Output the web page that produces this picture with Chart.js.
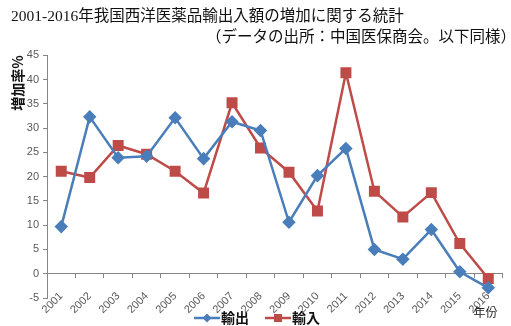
<!DOCTYPE html>
<html><head><meta charset="utf-8">
<script src="https://cdn.jsdelivr.net/npm/chart.js@4/dist/chart.umd.min.js"></script>
<style>html,body{margin:0;padding:0;background:#fff}#wrap{width:511px;height:326px}</style>
</head><body><div id="wrap"><canvas id="c" width="511" height="326"></canvas></div>
<script>
const years = ['2001','2002','2003','2004','2005','2006','2007','2008','2009','2010','2011','2012','2013','2014','2015','2016'];
const exportGrowth = [9.7, 32.3, 23.9, 24.2, 32.1, 23.7, 31.3, 29.5, 10.6, 20.2, 25.8, 5.0, 3.0, 9.1, 0.4, -2.9];
const importGrowth = [21.1, 19.8, 26.4, 24.6, 21.1, 16.6, 35.2, 25.9, 20.9, 12.9, 41.4, 17.0, 11.7, 16.7, 6.2, -1.0];
const seriesNames = ['輸出', '輸入'];
const titleLine1 = '2001-2016年我国西洋医薬品輸出入額の増加に関する統計';
const titleLine2 = '（データの出所：中国医保商会。以下同様）';
const yTitle = '増加率%';
const xTitle = '年份';

const BLUE = '#4a7ebb', RED = '#be4b48';
function icon(color, shape){
  const c = document.createElement('canvas'); c.width = 40; c.height = 12;
  const g = c.getContext('2d');
  g.strokeStyle = color; g.lineWidth = 2.5;
  g.beginPath(); g.moveTo(13,6); g.lineTo(39,6); g.stroke();
  g.fillStyle = color;
  if (shape === 'd'){ g.beginPath(); g.moveTo(26,1.5); g.lineTo(30.5,6); g.lineTo(26,10.5); g.lineTo(21.5,6); g.closePath(); g.fill(); }
  else { g.fillRect(22,2,8,8); }
  return c;
}
const icons = [icon(BLUE,'d'), icon(RED,'s')];

const layoutTweaks = {
  id: 'layoutTweaks',
  afterLayout(chart){
    chart.boxes.forEach(b => {
      const t = b.options && b.options.text;
      if (t === titleLine1) { b.left += 11; b.right += 11; }
      if (t === titleLine2) { b.left += 12; b.right += 12; }
    });
    if (chart.legend) {
      chart.legend.top += 3; chart.legend.bottom += 3;
      chart.legend.left += 2; chart.legend.right += 2;
    }
  },
  afterDraw(chart){
    const ctx = chart.ctx, a = chart.chartArea;
    ctx.save();
    ctx.font = '12px "Noto Sans CJK JP"';
    ctx.fillStyle = '#222';
    ctx.textAlign = 'right'; ctx.textBaseline = 'middle';
    ctx.fillText(xTitle, a.right - 5, 312);
    ctx.restore();
  }
};

new Chart(document.getElementById('c'), {
  type: 'line',
  data: {
    labels: years,
    datasets: [
      { label: seriesNames[0], data: exportGrowth, borderColor: BLUE, backgroundColor: BLUE, borderWidth: 2.5,
        pointStyle: 'rectRot', pointRadius: 5, pointHoverRadius: 5, tension: 0 },
      { label: seriesNames[1], data: importGrowth, borderColor: RED, backgroundColor: RED, borderWidth: 2.5,
        pointStyle: 'rect', pointRadius: 6, pointHoverRadius: 6, tension: 0 }
    ]
  },
  options: {
    responsive: false, animation: false,
    layout: { padding: { left: 0, right: 7, top: 0, bottom: -6 } },
    plugins: {
      tooltip: { enabled: false },
      title: { display: true, text: titleLine1, align: 'start', color: '#111',
        font: { family: '"Liberation Serif","Noto Sans CJK JP"', size: 15.5, weight: 'normal' }, padding: { top: 8, bottom: 2 } },
      subtitle: { display: true, text: titleLine2, align: 'end', color: '#111',
        font: { family: '"Liberation Serif","Noto Sans CJK JP"', size: 15.5, weight: 'normal' }, padding: { top: 0, bottom: 8 } },
      legend: { position: 'bottom', align: 'center',
        labels: { usePointStyle: true, pointStyleWidth: 26, boxHeight: 12, padding: 10, color: '#111',
          font: { family: '"Noto Sans CJK JP"', size: 14, weight: 'bold' },
          generateLabels(chart){
            const items = Chart.defaults.plugins.legend.labels.generateLabels(chart);
            items.forEach((it,i)=>{ it.pointStyle = icons[i]; });
            return items;
          } } }
    },
    scales: {
      x: {
        position: { y: 0 },
        offset: true,
        grid: { display: true, drawOnChartArea: false, drawTicks: true, tickLength: 4, color: '#868686', offset: true },
        border: { color: '#868686' },
        ticks: { maxRotation: 45, minRotation: 45, autoSkip: false, color: '#595959', padding: 12,
          font: { family: '"Liberation Sans", sans-serif', size: 11 } }
      },
      y: {
        min: -5, max: 45,
        afterFit(s){ s.width = 47; },
        grid: { display: true, drawOnChartArea: false, drawTicks: true, tickLength: 4, color: '#868686' },
        border: { color: '#868686' },
        ticks: { stepSize: 5, color: '#595959', padding: 4,
          font: { family: '"Liberation Sans", sans-serif', size: 11 } },
        title: { display: true, text: yTitle, align: 'end', color: '#111', padding: { top: 9, bottom: 2 },
          font: { family: '"Noto Sans CJK JP"', size: 14, weight: 'bold' } }
      }
    }
  },
  plugins: [layoutTweaks]
});
</script></body></html>
